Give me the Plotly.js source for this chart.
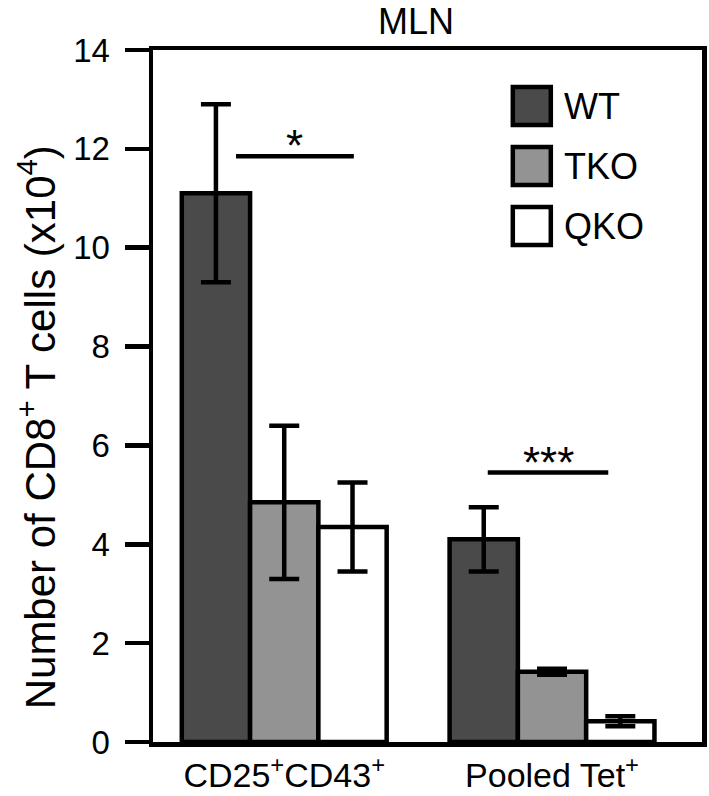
<!DOCTYPE html>
<html>
<head>
<meta charset="utf-8">
<script src="https://cdn.plot.ly/plotly-3.0.1.min.js"></script>
<style>html,body{margin:0;padding:0;background:#fff;}#chart{width:709px;height:796px;}</style>
</head>
<body>
<div id="chart"></div>
<script>
// ---- data ----
const categories = ['CD25<sup>+</sup>CD43<sup>+</sup>', 'Pooled Tet<sup>+</sup>'];
const seriesNames = ['WT', 'TKO', 'QKO'];
const seriesColors = ['#4a4a4a', '#939393', '#ffffff'];
const wtValues = [11.1, 4.1];
const wtErrors = [1.8, 0.65];
const tkoValues = [4.85, 1.42];
const tkoErrors = [1.55, 0.06];
const qkoValues = [4.35, 0.42];
const qkoErrors = [0.9, 0.1];
const yTickValues = [0, 2, 4, 6, 8, 10, 12, 14];
const yTitle = 'Number of CD8<sup>+</sup> T cells (x10<sup>4</sup>)';
// significance markers: category index, span offsets (in category units), height, label
const sigCategory = [0, 1];
const sigStart = [-0.18, -0.24];
const sigEnd = [0.26, 0.21];
const sigHeight = [11.85, 5.45];
const sigLabels = ['*', '***'];

const FONT = 'Liberation Sans, Arial, Helvetica, sans-serif';
const values = [wtValues, tkoValues, qkoValues];
const errors = [wtErrors, tkoErrors, qkoErrors];

const traces = seriesNames.map((name, i) => ({
  type: 'bar',
  name: name,
  x: [0, 1],
  y: values[i],
  marker: {color: seriesColors[i], line: {color: '#000', width: 4.5}},
  error_y: {type: 'data', array: errors[i], visible: true, color: '#000', thickness: 4.5, width: 15},
  showlegend: false,
  hoverinfo: 'skip'
}));

const shapes = [];
const annotations = [];
sigCategory.forEach((c, i) => {
  shapes.push({type: 'line', xref: 'x', yref: 'y', x0: c + sigStart[i], x1: c + sigEnd[i],
    y0: sigHeight[i], y1: sigHeight[i], line: {color: '#000', width: 4.5}});
  annotations.push({xref: 'x', yref: 'y', x: c + (sigStart[i] + sigEnd[i]) / 2, y: sigHeight[i],
    text: sigLabels[i], showarrow: false, yanchor: 'bottom', yshift: -16,
    font: {family: FONT, size: 44, color: '#000'}});
});

// custom legend (large swatches like the original)
const legendX = 0.69, legendTop = 0.919, legendStep = 60;
seriesNames.forEach((name, i) => {
  shapes.push({type: 'rect', xref: 'paper', yref: 'paper', xsizemode: 'pixel', ysizemode: 'pixel',
    xanchor: legendX, yanchor: legendTop, x0: -19, x1: 19, y0: -19 - i * legendStep, y1: 19 - i * legendStep,
    fillcolor: seriesColors[i], line: {color: '#000', width: 4.5}});
  annotations.push({xref: 'paper', yref: 'paper', x: legendX, y: legendTop, xshift: 30, yshift: -i * legendStep,
    xanchor: 'left', yanchor: 'middle', text: name, showarrow: false,
    font: {family: FONT, size: 36, color: '#000'}});
});

// y-axis title
annotations.push({xref: 'paper', yref: 'paper', x: -0.211, y: 0.455, xanchor: 'center', yanchor: 'middle',
  textangle: -90, text: yTitle, showarrow: false, font: {family: FONT, size: 42, color: '#000'}});

const layout = {
  width: 709, height: 796,
  margin: {l: 153, r: 7, t: 50, b: 54},
  paper_bgcolor: '#fff', plot_bgcolor: '#fff',
  barmode: 'group', bargap: 0.235, bargroupgap: 0,
  font: {family: FONT, color: '#000'},
  title: {text: 'MLN', x: 0.479, xref: 'paper', xanchor: 'center', y: 0.973, yref: 'container', yanchor: 'middle',
    font: {family: FONT, size: 36, color: '#000'}},
  xaxis: {
    range: [-0.49, 1.56], tickmode: 'array', tickvals: [0, 1], ticktext: categories,
    showline: true, linewidth: 4.5, linecolor: '#000', mirror: true, ticks: '', showgrid: false, zeroline: false,
    tickfont: {family: FONT, size: 34, color: '#000'}, ticklabelstandoff: 0
  },
  yaxis: {
    range: [0, 14], tickmode: 'array', tickvals: yTickValues,
    showline: true, linewidth: 4.5, linecolor: '#000', mirror: true,
    ticks: 'outside', ticklen: 24, tickwidth: 4.5, tickcolor: '#000', showgrid: false, zeroline: false,
    tickfont: {family: FONT, size: 33, color: '#000'}, ticklabelstandoff: 8
  },
  shapes: shapes,
  annotations: annotations
};

Plotly.newPlot('chart', traces, layout, {displayModeBar: false, staticPlot: true});
</script>
</body>
</html>
